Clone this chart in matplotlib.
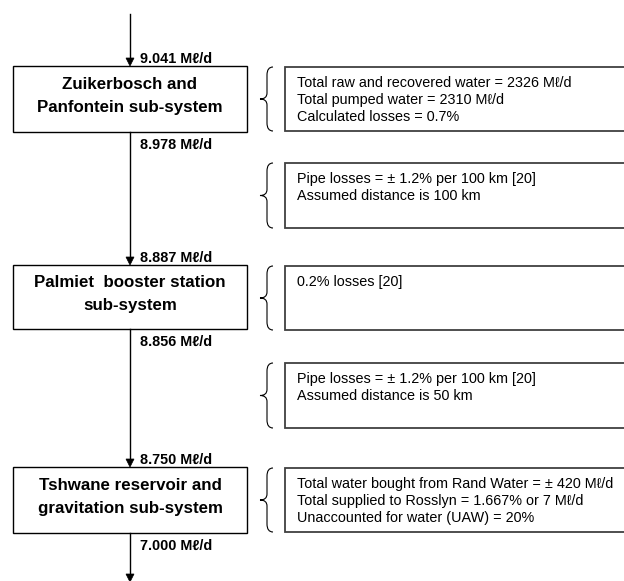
import matplotlib
matplotlib.use('Agg')
import matplotlib.pyplot as plt
import matplotlib.patches as mpatches
from matplotlib.path import Path

plt.rcParams['font.family'] = ['Liberation Sans', 'DejaVu Sans']

# Diagram content
subsystems = ['Zuikerbosch and\nPanfontein sub-system',
              'Palmiet  booster station\nsub-system',
              'Tshwane reservoir and\ngravitation sub-system']
flow_in = ['9.041 M\u2113/d', '8.887 M\u2113/d', '8.750 M\u2113/d']
flow_out = ['8.978 M\u2113/d', '8.856 M\u2113/d', '7.000 M\u2113/d']
notes = [
    ['Total raw and recovered water = 2326 M\u2113/d',
     'Total pumped water = 2310 M\u2113/d',
     'Calculated losses = 0.7%'],
    ['Pipe losses = \u00b1 1.2% per 100 km [20]',
     'Assumed distance is 100 km'],
    ['0.2% losses [20]'],
    ['Pipe losses = \u00b1 1.2% per 100 km [20]',
     'Assumed distance is 50 km'],
    ['Total water bought from Rand Water = \u00b1 420 M\u2113/d',
     'Total supplied to Rosslyn = 1.667% or 7 M\u2113/d',
     'Unaccounted for water (UAW) = 20%'],
]

# Layout (pixel coordinates, y down)
W, H = 624, 581
box_x0, box_x1 = 13, 247
box_tops = [66, 265, 467]
box_bots = [132, 329, 533]
note_x0 = 285
note_tops = [67, 163, 266, 363, 468]
note_bots = [131, 228, 330, 428, 532]
line_gap = 17
xc = 130

fig = plt.figure(figsize=(W / 100, H / 100), dpi=100)
ax = fig.add_axes([0, 0, 1, 1])
ax.set_xlim(0, W)
ax.set_ylim(H, 0)
ax.axis('off')


def arrow(y0, y1):
    ax.plot([xc, xc], [y0, y1 - 6], color='black', lw=1)
    ax.add_patch(mpatches.Polygon([[xc - 4, y1 - 8], [xc + 4, y1 - 8], [xc, y1]],
                                  closed=True, fc='black', ec='black', lw=0.5))


def brace(x, top, bot):
    mid = (top + bot) / 2
    xm = x + 7
    verts = [(x + 13, top), (xm, top), (xm, top + 8),
             (xm, mid - 6),
             (xm, mid), (x, mid),
             (xm, mid), (xm, mid + 6),
             (xm, bot - 8),
             (xm, bot), (x + 13, bot)]
    codes = [Path.MOVETO, Path.CURVE3, Path.CURVE3,
             Path.LINETO,
             Path.CURVE3, Path.CURVE3,
             Path.CURVE3, Path.CURVE3,
             Path.LINETO,
             Path.CURVE3, Path.CURVE3]
    ax.add_patch(mpatches.PathPatch(Path(verts, codes), fc='none', ec='black', lw=0.8))


# flow line with arrows
arrow(14, box_tops[0])
arrow(box_bots[0], box_tops[1])
arrow(box_bots[1], box_tops[2])
arrow(box_bots[2], H + 1)

for i, name in enumerate(subsystems):
    t, b = box_tops[i], box_bots[i]
    ax.add_patch(mpatches.Rectangle((box_x0, t), box_x1 - box_x0, b - t,
                                    fc='white', ec='black', lw=1))
    ax.text(xc, (t + b) / 2 - 3, name, ha='center', va='center', fontsize=12.2,
            fontweight='bold', linespacing=1.65)
    ax.text(xc + 10, t - 7, flow_in[i], ha='left', va='center', fontsize=10.4,
            fontweight='bold')
    ax.text(xc + 10, b + 13, flow_out[i], ha='left', va='center', fontsize=10.4,
            fontweight='bold')

for i, lines in enumerate(notes):
    t, b = note_tops[i], note_bots[i]
    ax.add_patch(mpatches.Rectangle((note_x0, t), W + 20 - note_x0, b - t,
                                    fc='white', ec='#404040', lw=1.3))
    brace(260, t, b)
    for j, txt in enumerate(lines):
        ax.text(note_x0 + 12, t + 16 + j * line_gap, txt, ha='left', va='center',
                fontsize=10.4)

fig.savefig('out.png', dpi=100)
